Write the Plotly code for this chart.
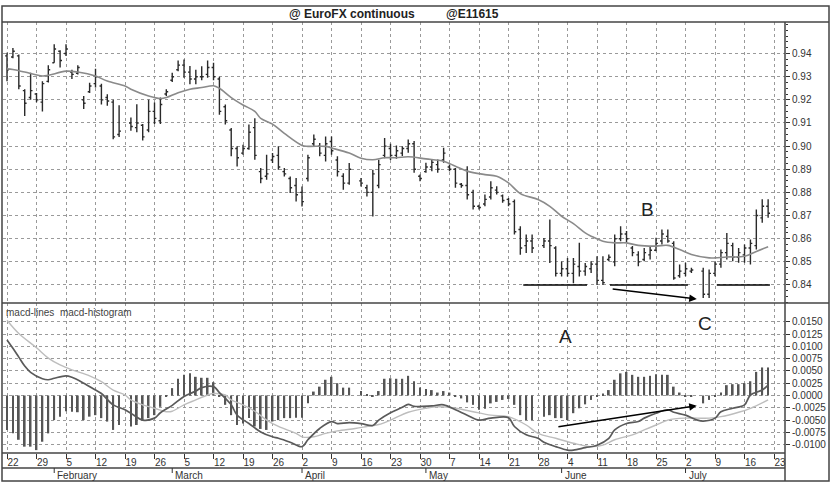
import plotly.graph_objects as go

# trading-day index, 0 = Mon 22 Jan 2001; holidays are gaps
holidays = [20, 59, 90, 117]
days = [d for d in range(130) if d not in holidays]

high = [.9403, .9424, .9396, .9246, .9317, .9230, .9280, .9350, .9440, .9414,
        .9440, .9330, .9350, .9217, .9274, .9334, .9270, .9224, .9200, .9177,
        .9124, .9181, .9096, .9200, .9189, .9210, .9246, .9317, .9370,
        .9374, .9346, .9330, .9345, .9370, .9360, .9300, .9180, .9078, .8999,
        .9006, .9093, .9121, .8905, .8963, .8970, .8999, .8905, .8869, .8862,
        .8826, .8963, .9050, .9013, .9042, .9042, .8956, .8883, .8927,
        .8862, .8833, .8898, .8941, .9035, .9010, .9003, .9000, .9029, .9022,
        .8877, .8928, .8942, .8942, .8993, .8921, .8906, .8841, .8913, .8812,
        .8747, .8791, .8848, .8827, .8791, .8776, .8769, .8654, .8618, .8618,
        .8603, .8683, .8567, .8502, .8517, .8517, .8582, .8495, .8503,
        .8524, .8524, .8532, .8618, .8654, .8633, .8568, .8546, .8560, .8568,
        .8604, .8640, .8640, .8589, .8488, .8496, .8474,
        .8474, .8467, .8503, .8553, .8625, .8582, .8560, .8575, .8597, .8726,
        .8770, .8770]
low = [.9280, .9380, .9246, .9130, .9200, .9190, .9150, .9275, .9360, .9340,
       .9390, .9290, .9310, .9160, .9230, .9253, .9180, .9174, .9030, .9040,
       .9067, .9060, .9024, .9060, .9096, .9096, .9217, .9277, .9324,
       .9296, .9267, .9267, .9285, .9295, .9285, .9136, .9093, .8956, .8912,
       .8963, .8984, .8941, .8840, .8855, .8927, .8898, .8869, .8797, .8761,
       .8739, .8847, .8999, .8956, .8934, .8963, .8869, .8811, .8833,
       .8826, .8782, .8696, .8818, .8948, .8940, .8945, .8957, .8971, .8885,
       .8848, .8885, .8892, .8885, .8928, .8892, .8820, .8820, .8769, .8726,
       .8726, .8740, .8769, .8791, .8755, .8740, .8618, .8531, .8538, .8538,
       .8560, .8495, .8437, .8437, .8437, .8408, .8437, .8440, .8452,
       .8400, .8400, .8503, .8481, .8589, .8582, .8524, .8481, .8503, .8510,
       .8546, .8575, .8582, .8423, .8431, .8438, .8452,
       .8344, .8344, .8438, .8474, .8510, .8503, .8496, .8496, .8488, .8553,
       .8669, .8690]
open_ = [.9390, .9385, .9390, .9240, .9210, .9225, .9190, .9280, .9360, .9410,
         .9400, .9320, .9315, .9200, .9235, .9270, .9260, .9210, .9190, .9050,
         .9100, .9080, .9090, .9070, .9150, .9110, .9225, .9285, .9330,
         .9350, .9320, .9290, .9300, .9310, .9340, .9290, .9170, .9070, .8990,
         .8970, .8990, .9080, .8890, .8870, .8940, .8960, .8890, .8860, .8830,
         .8800, .8860, .9010, .9000, .8960, .9020, .8940, .8870, .8840,
         .8850, .8820, .8800, .8830, .8960, .8990, .8960, .8970, .8990, .9010,
         .8870, .8890, .8910, .8920, .8940, .8910, .8900, .8835, .8830, .8800,
         .8740, .8750, .8780, .8810, .8785, .8770, .8760, .8640, .8570, .8590,
         .8570, .8590, .8560, .8450, .8470, .8450, .8480, .8460, .8470,
         .8490, .8420, .8510, .8500, .8600, .8620, .8560, .8530, .8510, .8530,
         .8550, .8590, .8610, .8580, .8440, .8450, .8460,
         .8460, .8360, .8450, .8490, .8540, .8570, .8520, .8530, .8560, .8570,
         .8690, .8740]
close = [.9330, .9410, .9260, .9185, .9240, .9200, .9270, .9330, .9420, .9370,
         .9420, .9310, .9340, .9185, .9260, .9300, .9200, .9195, .9040, .9065,
         .9085, .9100, .9040, .9150, .9120, .9180, .9235, .9300, .9350,
         .9320, .9290, .9300, .9300, .9340, .9300, .9150, .9110, .8990, .8950,
         .8990, .9060, .8960, .8860, .8880, .8955, .8910, .8880, .8820, .8790,
         .8760, .8950, .9030, .8970, .9010, .8980, .8890, .8840, .8900,
         .8840, .8800, .8880, .8920, .9000, .8960, .8980, .8990, .9010, .8900,
         .8860, .8910, .8930, .8900, .8970, .8900, .8840, .8830, .8790, .8740,
         .8735, .8770, .8820, .8800, .8765, .8750, .8630, .8560, .8590, .8560,
         .8590, .8570, .8450, .8470, .8450, .8490, .8460, .8480, .8490,
         .8420, .8410, .8520, .8600, .8620, .8600, .8540, .8500, .8540, .8550,
         .8580, .8620, .8590, .8430, .8460, .8470, .8465,
         .8360, .8450, .8490, .8540, .8580, .8520, .8540, .8560, .8580, .8700,
         .8740, .8710]

# moving average of price
ma_x = [0, 1, 3, 6, 7, 10, 12, 15, 17, 20, 21, 24, 26, 27, 29, 31, 33, 35, 36,
        38, 40, 42, 43, 45, 47, 50, 51, 54, 55, 58, 60, 62, 64, 66, 68, 71, 74,
        76, 78, 81, 83, 85, 87, 90, 92, 94, 96, 98, 99, 101, 103, 105, 107,
        110, 112, 114, 116, 119, 120, 122, 125, 127, 129]
ma_y = [.9334, .9331, .9320, .9303, .9306, .9324, .9320, .9303, .9281, .9260,
        .9246, .9217, .9206, .9210, .9231, .9246, .9253, .9261, .9250, .9210,
        .9178, .9150, .9120, .9095, .9055, .9003, .8999, .8999, .8992, .8970,
        .8948, .8941, .8950, .8950, .8954, .8945, .8935, .8913, .8892, .8877,
        .8870, .8841, .8795, .8769, .8740, .8697, .8665, .8625, .8611, .8589,
        .8582, .8582, .8571, .8568, .8571, .8553, .8532, .8517, .8517, .8521,
        .8524, .8545, .8565]

# macd histogram, one bar per trading day
hist = [-.0070, -.0077, -.0090, -.0104, -.0104, -.0111, -.0094, -.0077, -.0050,
        -.0043, -.0032, -.0033, -.0034, -.0050, -.0043, -.0040, -.0046, -.0053,
        -.0070, -.0060, -.0063, -.0060, -.0050, -.0046, -.0040, -.0023,
        -.0002, .0015, .0034, .0042, .0045, .0038, .0036, .0036, .0027, -.0002,
        -.0019, -.0040, -.0060, -.0057, -.0046, -.0063, -.0068, -.0070, -.0053,
        -.0050, -.0046, -.0046, -.0045, -.0045, -.0016, .0008, .0018, .0032,
        .0038, .0025, .0016, .0016, .0009, .0001, -.0002, .0009, .0034,
        .0035, .0034, .0034, .0040, .0029, .0016, .0013, .0011, .0006, .0009,
        .0006, -.0002, -.0006, -.0014, -.0019, -.0029, -.0027, -.0016, -.0013,
        -.0009, -.0007, -.0019, -.0040, -.0050, -.0050, -.0043, -.0040,
        -.0046, -.0046, -.0050, -.0036, -.0026, -.0018, -.0009, -.0002, .0004,
        .0011, .0032, .0045, .0048, .0042, .0038, .0038, .0040, .0043, .0042,
        .0042, .0018, .0006, -.0002, -.0002, -.0016, -.0009, -.0002,
        .0006, .0021, .0023, .0023, .0025, .0029, .0048, .0057, .0057]

macd_x = [0, 1, 2, 3, 4, 6, 7, 8, 10, 11, 13, 15, 16, 18, 20, 21, 23, 25, 26,
          28, 30, 32, 33, 35, 36, 38, 39, 41, 43, 45, 46, 48, 50, 51, 53, 55,
          56, 58, 60, 62, 63, 65, 67, 68, 69, 72, 74, 76, 78, 80, 82, 85, 86,
          88, 90, 91, 93, 95, 96, 98, 100, 102, 103, 105, 107, 108, 110, 112,
          113, 115, 117, 118, 120, 121, 123, 125, 126, 128, 129]
macd_y = [.0113, .0096, .0078, .0060, .0047, .0034, .0032, .0035, .0040, .0037,
          .0025, .0011, .0004, -.0019, -.0029, -.0036, -.0050, -.0046, -.0035,
          -.0020, -.0002, .0009, .0016, .0018, .0006, -.0019, -.0040, -.0057,
          -.0074, -.0084, -.0087, -.0095, -.0104, -.0090, -.0067, -.0053,
          -.0057, -.0055, -.0057, -.0061, -.0050, -.0035, -.0024, -.0018,
          -.0022, -.0021, -.0019, -.0029, -.0040, -.0050, -.0046, -.0045,
          -.0063, -.0080, -.0087, -.0095, -.0104, -.0111, -.0111, -.0106,
          -.0101, -.0087, -.0070, -.0057, -.0053, -.0046, -.0036, -.0029,
          -.0034, -.0040, -.0050, -.0052, -.0046, -.0033, -.0026, -.0019,
          .0001, .0011, .0021]

sig_x = [0, 2, 5, 7, 9, 11, 14, 16, 18, 20, 21, 23, 25, 27, 28, 30, 32, 34,
         35, 37, 38, 40, 42, 44, 46, 49, 50, 52, 54, 56, 59, 61, 63, 65, 68,
         71, 73, 76, 79, 82, 85, 88, 90, 93, 96, 99, 101, 103, 106, 108, 110,
         112, 115, 117, 119, 121, 124, 126, 129]
sig_y = [.0153, .0126, .0097, .0076, .0062, .0052, .0040, .0028, .0011, .0001,
         -.0009, -.0019, -.0026, -.0033, -.0032, -.0019, -.0009, .0001, .0004,
         .0001, -.0009, -.0019, -.0032, -.0050, -.0063, -.0077, -.0084, -.0084,
         -.0077, -.0072, -.0067, -.0063, -.0059, -.0050, -.0034, -.0026,
         -.0023, -.0026, -.0033, -.0040, -.0043, -.0060, -.0077, -.0087,
         -.0097, -.0104, -.0101, -.0090, -.0080, -.0070, -.0060, -.0050,
         -.0046, -.0046, -.0046, -.0043, -.0034, -.0026, -.0009]

# axis labels
week_ticks = list(range(0, 131, 5))
week_labels = ['22', '29', '5', '12', '19', '26', '5', '12', '19', '26', '2', '9',
               '16', '23', '30', '7', '14', '21', '28', '4', '11', '18', '25',
               '2', '9', '16', '23']
month_pos = [8, 28, 50, 71, 94, 115]
month_names = ['February', 'March', 'April', 'May', 'June', 'July']
price_ticks = [0.84, 0.85, 0.86, 0.87, 0.88, 0.89, 0.90, 0.91, 0.92, 0.93, 0.94]
macd_ticks = [-0.01, -0.0075, -0.005, -0.0025, 0.0, 0.0025, 0.005, 0.0075,
              0.01, 0.0125, 0.015]

FONT = 'Arial, Liberation Sans, sans-serif'
INK = '#333'
GRID = '#9a9a9a'

fig = go.Figure()
fig.add_trace(go.Ohlc(x=days, open=open_, high=high, low=low, close=close,
                      increasing_line_color='#2a2a2a', decreasing_line_color='#2a2a2a',
                      line_width=1.4, tickwidth=0.32, xaxis='x', yaxis='y'))
fig.add_trace(go.Scatter(x=ma_x, y=ma_y, mode='lines', line=dict(color='#8a8a8a', width=1.6, shape='spline'),
                         xaxis='x', yaxis='y'))
fig.add_trace(go.Bar(x=days, y=hist, width=0.3, marker=dict(color='#555', line_width=0),
                     xaxis='x', yaxis='y2'))
fig.add_trace(go.Scatter(x=sig_x, y=sig_y, mode='lines', line=dict(color='#bdbdbd', width=1.4, shape='spline'),
                         xaxis='x', yaxis='y2'))
fig.add_trace(go.Scatter(x=macd_x, y=macd_y, mode='lines', line=dict(color='#5a5a5a', width=1.7, shape='spline'),
                         xaxis='x', yaxis='y2'))

split = 0.348
fig.update_layout(
    width=831, height=485, showlegend=False,
    paper_bgcolor='white', plot_bgcolor='white',
    margin=dict(l=3, r=46, t=22, b=32),
    font=dict(family=FONT, size=10, color=INK),
    xaxis=dict(range=[-0.68, 131.86], anchor='y2', rangeslider=dict(visible=False),
               tickvals=week_ticks, ticktext=week_labels, ticks='outside', ticklen=5,
               tickcolor=INK, ticklabelposition='outside right',
               showgrid=True, gridcolor=GRID, griddash='dot', gridwidth=1,
               zeroline=False, tickfont=dict(size=10, color=INK)),
    yaxis=dict(domain=[split, 1], range=[0.83221, 0.95364], side='right', anchor='x',
               tickvals=price_ticks, ticktext=['%.2f' % v for v in price_ticks],
               ticks='outside', ticklen=4, tickcolor=INK,
               minor=dict(ticks='outside', ticklen=2, dtick=0.0025, tickcolor=INK, showgrid=False),
               showgrid=True, gridcolor=GRID, griddash='dot', gridwidth=1, zeroline=False),
    yaxis2=dict(domain=[0, split], range=[-0.01169, 0.0188], side='right', anchor='x',
                tickvals=macd_ticks, ticktext=['%.4f' % v for v in macd_ticks],
                ticks='outside', ticklen=4, tickcolor=INK,
                showgrid=True, gridcolor=GRID, griddash='dot', gridwidth=1, zeroline=False),
)

# frame lines (paper coords: plot spans px 3..785 and 22..453)
def px(xp):
    return (xp - 3) / 782.0

def py(yp):
    return (453 - yp) / 431.0

frame = dict(color='#444', width=1.5)
shapes = [
    dict(type='rect', xref='paper', yref='paper', x0=px(2), x1=px(829), y0=py(481), y1=py(6), line=frame),
    dict(type='line', xref='paper', yref='paper', x0=px(2), x1=px(829), y0=py(22), y1=py(22), line=frame),
    dict(type='line', xref='paper', yref='paper', x0=px(2), x1=px(829), y0=split, y1=split, line=frame),
    dict(type='line', xref='paper', yref='paper', x0=px(2), x1=px(785), y0=0, y1=0, line=frame),
    dict(type='line', xref='paper', yref='paper', x0=px(2), x1=px(785), y0=py(468), y1=py(468), line=frame),
    dict(type='line', xref='paper', yref='paper', x0=px(785), x1=px(785), y0=py(481), y1=py(22), line=frame),
]
for m in month_pos:
    shapes.append(dict(type='line', xref='x', yref='paper', x0=m, x1=m, y0=py(468), y1=py(473),
                       line=dict(color=INK, width=1)))

# support lines under the lows
lines_x = [(87.5, 98.3), (102.2, 115.4), (120.3, 129.3)]
for a, b in lines_x:
    shapes.append(dict(type='line', xref='x', yref='y', x0=a, x1=b, y0=0.84, y1=0.84,
                       line=dict(color='black', width=1.5)))
fig.update_layout(shapes=shapes)

ann = [
    dict(text='<b>@ EuroFX continuous</b>', x=px(417), y=py(14), xref='paper', yref='paper',
         xanchor='right', yanchor='middle', showarrow=False, font=dict(size=12, color='#222')),
    dict(text='<b>@E11615</b>', x=px(444), y=py(14), xref='paper', yref='paper',
         xanchor='left', yanchor='middle', showarrow=False, font=dict(size=12, color='#222')),
    dict(text='macd-lines  macd-histogram', x=px(4), y=py(312), xref='paper', yref='paper',
         xanchor='left', yanchor='middle', showarrow=False, font=dict(size=10, color='#444')),
    dict(text='B', x=108.6, y=0.8725, xref='x', yref='y', showarrow=False, font=dict(size=19, color='#222')),
    dict(text='A', x=94.6, y=0.0119, xref='x', yref='y2', showarrow=False, font=dict(size=19, color='#222')),
    dict(text='C', x=118.3, y=0.0147, xref='x', yref='y2', showarrow=False, font=dict(size=19, color='#222')),
    dict(x=116.9, y=0.8339, ax=102.4, ay=0.8383, xref='x', yref='y', axref='x', ayref='y',
         text='', showarrow=True, arrowhead=2, arrowsize=1, arrowwidth=1.5, arrowcolor='black'),
    dict(x=116.9, y=-0.0021, ax=93.2, ay=-0.0064, xref='x', yref='y2', axref='x', ayref='y2',
         text='', showarrow=True, arrowhead=2, arrowsize=1, arrowwidth=1.5, arrowcolor='black'),
]
for m, name in zip(month_pos, month_names):
    ann.append(dict(text=name, x=m, y=py(475), xref='x', yref='paper', xanchor='left',
                    yanchor='middle', xshift=1, showarrow=False, font=dict(size=10, color=INK)))
fig.update_layout(annotations=ann)

# page body has an 8px default margin; drop it so the figure starts at the corner
fig.write_html("out.html", config={'displayModeBar': False},
               post_script="document.body.style.margin='0';")
